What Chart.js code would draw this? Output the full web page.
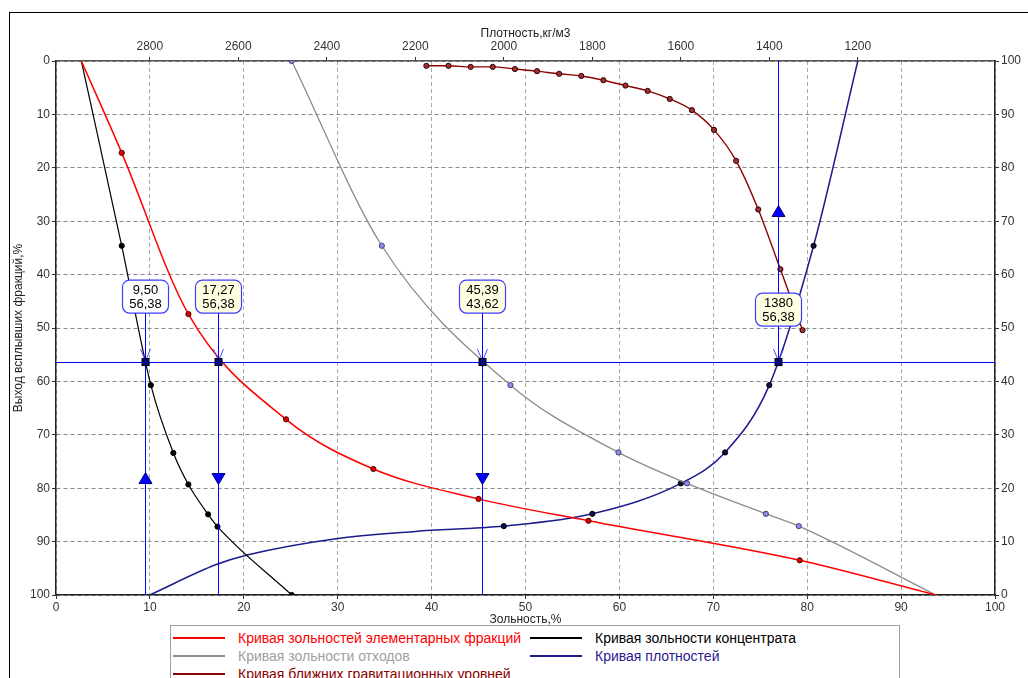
<!DOCTYPE html>
<html>
<head>
<meta charset="utf-8">
<script src="https://cdn.jsdelivr.net/npm/chart.js@4/dist/chart.umd.min.js"></script>
<style>
  html, body { margin: 0; padding: 0; background: #fff; }
  #wrap { position: relative; width: 1028px; height: 678px; overflow: hidden; background: #fff; }
  #frame { position: absolute; left: 9px; top: 12px; right: -2px; bottom: -2px; border-top: 1px solid #000; border-left: 1px solid #000; }
  #chart { position: absolute; left: 0; top: 0; }
  #legend { position: absolute; left: 170px; top: 625px; width: 728px; height: 70px; border: 1px solid #a0a0a0; background: #fff;
            font: 14px "Liberation Sans", Arial, sans-serif; }
  .item { position: absolute; height: 18px; display: flex; align-items: center; white-space: nowrap; }
  .item .ln { display: inline-block; width: 52px; border-top: 2px solid; margin-right: 13px; }
</style>
</head>
<body>
<div id="wrap">
  <div id="frame"></div>
  <canvas id="chart" width="1028" height="678"></canvas>
  <div id="legend"></div>
</div>
<script>
// элементарные фракции: зольность / выход (середина фракции)
const elemAsh    = [2.7, 7.0, 14.1, 24.5, 33.8, 45.0, 56.7, 79.2, 93.7];
const elemYield  = [0, 17.2, 47.4, 67.1, 76.4, 82.0, 86.1, 93.5, 100];
const elemMarker = [0, 1, 1, 1, 1, 1, 1, 1, 0];

// концентрат
const concAsh    = [2.7, 7.0, 10.1, 12.5, 14.1, 16.2, 17.2, 25.1];
const concYield  = [0, 34.6, 60.7, 73.4, 79.3, 84.9, 87.2, 100];
const concMarker = [0, 1, 1, 1, 1, 1, 1, 1];

// отходы
const tailAsh    = [25.1, 34.7, 48.4, 59.9, 67.2, 75.6, 79.1, 93.7];
const tailYield  = [0, 34.6, 60.7, 73.3, 79.1, 84.8, 87.1, 100];
const tailMarker = [1, 1, 1, 1, 1, 1, 1, 0];

// кривая плотностей (плотность, выход всплывших)
const densValue  = [1200, 1300, 1400, 1500, 1600, 1800, 2000, 2200, 2375, 2580, 2650, 2800];
const densYield  = [0, 34.6, 60.7, 73.3, 79.1, 84.8, 87.1, 88.1, 89.4, 92.5, 94.3, 100];
const densMarker = [0, 1, 1, 1, 1, 1, 1, 0, 0, 0, 0, 0];

// ближние гравитационные уровни
const ngDensity = [2175, 2125, 2075, 2025, 1975, 1925, 1875, 1825, 1775, 1725, 1675, 1625, 1575, 1525, 1475, 1425, 1375, 1325];
const ngYield   = [0.9, 0.9, 1.1, 1.1, 1.5, 1.9, 2.4, 2.8, 3.6, 4.6, 5.6, 7.1, 9.2, 12.9, 18.7, 27.8, 39.0, 50.4];

// подписи верхней оси
const densityTicks = [2800, 2600, 2400, 2200, 2000, 1800, 1600, 1400, 1200];

// курсоры
const cutYield = 56.38;
const ashCuts = [9.50, 17.27, 45.39];
const ashCutLabel2 = [56.38, 56.38, 43.62];
const ashCutUp = [true, false, false];
const densCut = 1380;
const densCutLabel2 = 56.38;

const fmt = v => v.toFixed(2).replace('.', ',');
const pts = (xs, ys) => xs.map((x, i) => ({ x: x, y: ys[i] }));
const radii = flags => flags.map(f => f ? 2.6 : 0);

const FONT = '"Liberation Sans", Arial, sans-serif';

const datasets = [
  { label: 'Кривая зольностей элементарных фракций', data: pts(elemAsh, elemYield), xAxisID: 'x',
    borderColor: '#ff0000', borderWidth: 1.5, pointRadius: radii(elemMarker),
    pointBackgroundColor: '#e00000', pointBorderColor: '#500000', legendText: '#ff0000' },
  { label: 'Кривая зольности концентрата', data: pts(concAsh, concYield), xAxisID: 'x',
    borderColor: '#000000', borderWidth: 1.2, pointRadius: radii(concMarker),
    pointBackgroundColor: '#000000', pointBorderColor: '#000000', legendText: '#000000' },
  { label: 'Кривая зольности отходов', data: pts(tailAsh, tailYield), xAxisID: 'x',
    borderColor: '#8c8c8c', borderWidth: 1.3, pointRadius: radii(tailMarker),
    pointBackgroundColor: '#8c8cf0', pointBorderColor: '#404070', legendText: '#a0a0a0' },
  { label: 'Кривая плотностей', data: pts(densValue, densYield), xAxisID: 'x2',
    borderColor: '#1c1c8c', borderWidth: 1.5, pointRadius: radii(densMarker),
    pointBackgroundColor: '#101040', pointBorderColor: '#000000', legendText: '#2a1a90' },
  { label: 'Кривая ближних гравитационных уровней', data: pts(ngDensity, ngYield), xAxisID: 'x2',
    borderColor: '#8b0000', borderWidth: 1.4, pointRadius: 2.6,
    pointBackgroundColor: '#a03030', pointBorderColor: '#300000', legendText: '#8b0000' }
];
datasets.forEach(d => { d.yAxisID = 'y'; d.pointBorderWidth = 1; d.fill = false; });

const cursorPlugin = {
  id: 'cursor',
  afterDatasetsDraw(chart) {
    const { ctx, chartArea: a, scales } = chart;
    const yc = scales.y.getPixelForValue(cutYield);
    const line = (x1, y1, x2, y2, color) => {
      ctx.strokeStyle = color;
      ctx.beginPath(); ctx.moveTo(x1, y1); ctx.lineTo(x2, y2); ctx.stroke();
    };

    const cursors = ashCuts.map((v, i) => ({
      x: scales.x.getPixelForValue(v), t1: fmt(v), t2: fmt(ashCutLabel2[i]), up: ashCutUp[i],
      fromTop: false, fill: i === 0 ? '#ffffff' : '#ffffe1'
    }));
    cursors.push({ x: scales.x2.getPixelForValue(densCut), t1: String(densCut), t2: fmt(densCutLabel2),
      up: true, fromTop: true, fill: '#ffffe1' });

    ctx.save();
    ctx.lineWidth = 1;
    // линии курсоров
    line(a.left, Math.round(yc) + 0.5, a.right, Math.round(yc) + 0.5, '#0000ff');
    cursors.forEach(c => {
      const x = Math.round(c.x) + 0.5;
      const boxBottom = yc - (c.fromTop ? 36 : 49);
      if (c.fromTop) line(x, a.top, x, yc, '#0000ff');
      else line(x, boxBottom, x, a.bottom, '#0000ff');
    });

    cursors.forEach(c => {
      const x = Math.round(c.x) + 0.5;
      const boxBottom = yc - (c.fromTop ? 36 : 49);
      ctx.lineWidth = 1;

      // стрелка
      ctx.strokeStyle = '#4a4aff';
      ctx.beginPath();
      ctx.moveTo(x - 5, yc - 13); ctx.lineTo(x, yc - 1); ctx.lineTo(x + 5, yc - 13);
      ctx.stroke();

      // треугольник направления
      const ym = scales.y.getPixelForValue(c.fromTop ? cutYield / 2 : (cutYield + 100) / 2);
      ctx.fillStyle = '#0000ff';
      ctx.strokeStyle = '#00007a';
      ctx.beginPath();
      if (c.up) { ctx.moveTo(x, ym - 6); ctx.lineTo(x + 6.5, ym + 5); ctx.lineTo(x - 6.5, ym + 5); }
      else { ctx.moveTo(x, ym + 6); ctx.lineTo(x + 6.5, ym - 5); ctx.lineTo(x - 6.5, ym - 5); }
      ctx.closePath(); ctx.fill(); ctx.stroke();

      // точка пересечения
      ctx.fillStyle = '#0a0a80';
      ctx.strokeStyle = '#000000';
      ctx.fillRect(x - 3.5, yc - 3.5, 7, 7);
      ctx.strokeRect(x - 3.5, yc - 3.5, 7, 7);

      // выноска
      const w = 46, h = 33, bx = x - w / 2, by = boxBottom - h;
      ctx.beginPath();
      ctx.roundRect(bx, by, w, h, 7);
      ctx.fillStyle = c.fill;
      ctx.fill();
      ctx.strokeStyle = '#3c3cff';
      ctx.lineWidth = 1.2;
      ctx.stroke();
      ctx.fillStyle = '#000';
      ctx.font = '13px ' + FONT;
      ctx.textAlign = 'center';
      ctx.textBaseline = 'middle';
      ctx.fillText(c.t1, x, by + 10);
      ctx.fillText(c.t2, x, by + 24);
    });
    ctx.restore();
  }
};

const tickFont = { family: FONT, size: 12 };
const titleFont = { family: FONT, size: 12 };

const chart = new Chart(document.getElementById('chart').getContext('2d'), {
  type: 'line',
  data: { datasets: datasets },
  plugins: [cursorPlugin],
  options: {
    responsive: false,
    animation: false,
    devicePixelRatio: 1,
    layout: { padding: { left: 10, top: 25, right: 0, bottom: 48 } },
    plugins: { legend: { display: false }, tooltip: { enabled: false } },
    elements: { line: { cubicInterpolationMode: 'monotone' } },
    scales: {
      x: {
        type: 'linear', position: 'bottom', min: 0, max: 100,
        ticks: { stepSize: 10, color: '#333', font: tickFont, padding: 1, maxRotation: 0 },
        grid: { color: '#a8a8a8', tickColor: '#333', tickLength: 4, tickBorderDash: [] },
        border: { color: '#222', width: 1.5, dash: [4, 3] },
        title: { display: true, text: 'Зольность,%', color: '#222', font: titleFont, padding: { top: 0, bottom: 3 } },
        afterFit: s => { s.height = 35; }
      },
      x2: {
        type: 'linear', position: 'top', min: 890, max: 3012, reverse: true,
        afterBuildTicks: s => { s.ticks = densityTicks.map(v => ({ value: v })); },
        ticks: { color: '#333', font: tickFont, padding: 3, maxRotation: 0, callback: v => String(v) },
        grid: { drawOnChartArea: false, tickColor: '#333', tickLength: 4 },
        border: { color: '#555', width: 1.5 },
        title: { display: true, text: 'Плотность,кг/м3', color: '#222', font: titleFont, padding: { top: 1, bottom: 0 } },
        afterFit: s => { s.height = 36; }
      },
      y: {
        type: 'linear', position: 'left', min: 0, max: 100, reverse: true,
        ticks: { stepSize: 10, color: '#333', font: tickFont, padding: 2 },
        grid: { color: '#888', tickColor: '#333', tickLength: 4, tickBorderDash: [] },
        border: { color: '#222', width: 1.5, dash: [4, 3] },
        title: { display: true, text: 'Выход всплывших фракций,%', color: '#222', font: titleFont, padding: { top: 1, bottom: 0 } },
        afterFit: s => { s.width = 46; }
      },
      y2: {
        type: 'linear', position: 'right', min: 0, max: 100,
        ticks: { stepSize: 10, color: '#333', font: tickFont, padding: 2 },
        grid: { drawOnChartArea: false, tickColor: '#333', tickLength: 4 },
        border: { color: '#222', width: 1.5 },
        afterFit: s => { s.width = 33; }
      }
    }
  }
});

// легенда в две колонки
const legend = document.getElementById('legend');
datasets.forEach((d, k) => {
  const item = document.createElement('div');
  item.className = 'item';
  item.style.left = (k % 2 === 0 ? 2 : 359) + 'px';
  item.style.top = (3 + Math.floor(k / 2) * 18) + 'px';
  const ln = document.createElement('span');
  ln.className = 'ln';
  ln.style.borderColor = d.borderColor;
  const tx = document.createElement('span');
  tx.textContent = d.label;
  tx.style.color = d.legendText;
  item.appendChild(ln);
  item.appendChild(tx);
  legend.appendChild(item);
});
</script>
</body>
</html>
